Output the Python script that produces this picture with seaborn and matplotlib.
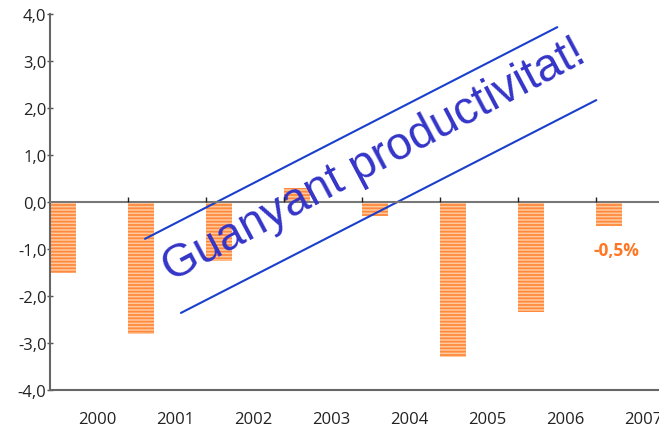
"""Bar chart of yearly productivity change with a rotated annotation banner."""

import matplotlib
matplotlib.use('Agg')
import matplotlib.pyplot as plt
import seaborn as sns
import pandas as pd
import numpy as np

years = ['2000', '2001', '2002', '2003', '2004', '2005', '2006', '2007']
values = [-1.5, -2.8, -1.25, 0.3, -0.3, -3.3, -2.35, -0.5]
y_ticks = [-4, -3, -2, -1, 0, 1, 2, 3, 4]
last_label = '-0,5%'
banner = 'Guanyant productivitat!'

sns.set_style('white')
plt.rcParams['font.family'] = ['Open Sans', 'DejaVu Sans']
plt.rcParams['hatch.linewidth'] = 1.3

df = pd.DataFrame({'year': years, 'value': values})

fig = plt.figure(figsize=(6.59, 4.27), dpi=100)
ax = fig.add_axes([50 / 659, 36 / 427, 609 / 659, 376 / 427])

sns.barplot(data=df, x='year', y='value', width=1 / 3, ax=ax,
            color='#ffc9a0', saturation=1, errorbar=None)
for p in ax.patches:
    p.set_hatch('-----')
    p.set_edgecolor('#ff8a3d')
    p.set_linewidth(0)

# slots start at the left edge of each bar
start = -1 / 6
ax.set_xlim(start, start + 609 / 78)
ax.set_ylim(-4, 4)

# zero line with small boundary ticks
ax.axhline(0, color='#777777', lw=1.5, zorder=3)
bounds = np.arange(len(years)) + start
ax.vlines(bounds[1:], 0, 0.1, color='#222222', lw=1, zorder=4)

ax.set_xticks(np.arange(len(years)) + 0.436)
ax.set_xticklabels(years)
ax.set_yticks(y_ticks)
ax.set_yticklabels([f'{v:.1f}'.replace('.', ',') for v in y_ticks])
ax.tick_params(axis='x', length=0, pad=15, labelsize=12, labelcolor='#222222')
ax.tick_params(axis='y', direction='inout', length=5, width=1, color='#555555',
               pad=0, labelsize=12, labelcolor='#222222', left=True)
ax.set_xlabel('')
ax.set_ylabel('')

for side in ['top', 'right']:
    ax.spines[side].set_visible(False)
for side in ['left', 'bottom']:
    ax.spines[side].set_color('#666666')
    ax.spines[side].set_linewidth(1.5)

# value label for the last year
ax.annotate(last_label, xy=(len(years) - 1, values[-1]), xytext=(5, -11),
            textcoords='offset points', ha='center', va='top',
            color='#ff7722', fontsize=12.5, fontweight='bold')

# banner with two parallel lines
ax.plot([0.156, 0.833], [0.402, 0.965], transform=ax.transAxes,
        color='#1a3fcc', lw=1.5, clip_on=False)
ax.plot([0.215, 0.897], [0.205, 0.771], transform=ax.transAxes,
        color='#1a3fcc', lw=1.5, clip_on=False)
ax.text(0.532, 0.612, banner, transform=ax.transAxes, rotation=28,
        rotation_mode='anchor', ha='center', va='center', color='#3434c8',
        fontsize=33, family=['Liberation Sans', 'DejaVu Sans'])

fig.savefig('out.png', dpi=100)
